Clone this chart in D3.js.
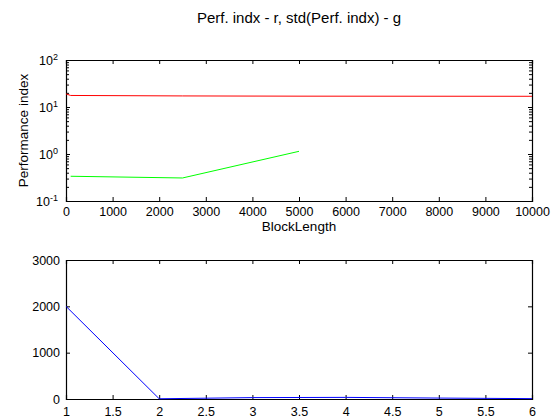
<!DOCTYPE html>
<html>
<head>
<meta charset="utf-8">
<script src="https://cdn.jsdelivr.net/npm/d3@7"></script>
<style>
  body { margin: 0; background: #fff; }
  svg { font-family: "Liberation Sans", Arial, sans-serif; }
  .domain { stroke: #000; }
  .tick line { stroke: #000; }
  .tick text { fill: #000; font-size: 12.5px; }
</style>
</head>
<body>
<div id="chart"></div>
<script>
// top panel: performance index vs block length
const blockLen = [0, 100, 2500, 5000, 10000];
const perfIdx = [19, 17.6, 17.2, 17.0, 16.9];
const stdLen = [100, 2500, 5000];
const stdPerf = [0.336, 0.309, 1.14];

// bottom panel
const xBottom = [1, 2, 3, 4, 5, 6];
const yBottom = [2000, 5, 30, 35, 20, 8];

const xTicksTop = d3.range(0, 10001, 1000);
const yTicksTop = [0.1, 1, 10, 100];
const xTicksBottom = d3.range(1, 6.01, 0.5);
const yTicksBottom = [0, 1000, 2000, 3000];

const W = 558, H = 418;
const left = 66, right = 532;

const svg = d3.select("#chart").append("svg")
  .attr("width", W).attr("height", H);

svg.append("text")
  .attr("x", (left + right) / 2).attr("y", 23)
  .attr("text-anchor", "middle")
  .style("font-size", "15px")
  .text("Perf. indx - r, std(Perf. indx) - g");

// ---- top axes
let top1 = 60, bot1 = 201;
let x1 = d3.scaleLinear().domain([0, 10000]).range([left, right]);
let y1 = d3.scaleLog().domain([0.1, 100]).range([bot1, top1]);

function sup(sel) {
  sel.selectAll(".tick text").each(function (d) {
    const t = d3.select(this);
    t.text("");
    t.append("tspan").text("10");
    t.append("tspan").attr("dy", "-0.45em").style("font-size", "9px")
      .text(Math.round(Math.log10(d)));
  });
}

let minor = y1.ticks().filter(d => !yTicksTop.some(v => Math.abs(v - d) < 1e-9));

svg.append("g").attr("transform", "translate(0," + bot1 + ")")
  .call(d3.axisBottom(x1).tickValues(xTicksTop).tickSize(-4).tickPadding(6).tickFormat(d3.format("d")));
svg.append("g").attr("transform", "translate(0," + top1 + ")")
  .call(d3.axisTop(x1).tickValues(xTicksTop).tickSize(-4).tickFormat(""));
svg.append("g").attr("transform", "translate(" + left + ",0)")
  .call(d3.axisLeft(y1).tickValues(yTicksTop).tickSize(-4).tickPadding(8))
  .call(sup);
svg.append("g").attr("transform", "translate(" + right + ",0)")
  .call(d3.axisRight(y1).tickValues(yTicksTop).tickSize(-4).tickFormat(""));
svg.append("g").attr("transform", "translate(" + left + ",0)")
  .call(d3.axisLeft(y1).tickValues(minor).tickSize(-3).tickFormat(""))
  .select(".domain").remove();
svg.append("g").attr("transform", "translate(" + right + ",0)")
  .call(d3.axisRight(y1).tickValues(minor).tickSize(-3).tickFormat(""))
  .select(".domain").remove();

svg.selectAll(".domain").attr("stroke-width", 1.2);

svg.append("text")
  .attr("x", (left + right) / 2).attr("y", 231)
  .attr("text-anchor", "middle").style("font-size", "13.5px")
  .text("BlockLength");
svg.append("text")
  .attr("transform", "translate(28," + (top1 + bot1) / 2 + ") rotate(-90)")
  .attr("text-anchor", "middle").style("font-size", "13.5px")
  .text("Performance index");

let line1 = d3.line().x(d => x1(d[0])).y(d => y1(d[1]));
svg.append("path")
  .datum(blockLen.map((v, i) => [v, perfIdx[i]]))
  .attr("fill", "none").attr("stroke", "#ff0000").attr("stroke-width", 1)
  .attr("d", line1);
svg.append("path")
  .datum(stdLen.map((v, i) => [v, stdPerf[i]]))
  .attr("fill", "none").attr("stroke", "#00ff00").attr("stroke-width", 1)
  .attr("d", line1);

// ---- bottom axes
let top2 = 260, bot2 = 399;
let x2 = d3.scaleLinear().domain([1, 6]).range([left, right]);
let y2 = d3.scaleLinear().domain([0, 3000]).range([bot2, top2]);

svg.append("g").attr("transform", "translate(0," + bot2 + ")")
  .call(d3.axisBottom(x2).tickValues(xTicksBottom).tickSize(-4).tickPadding(8).tickFormat(d3.format("~g")));
svg.append("g").attr("transform", "translate(0," + top2 + ")")
  .call(d3.axisTop(x2).tickValues(xTicksBottom).tickSize(-4).tickFormat(""));
svg.append("g").attr("transform", "translate(" + left + ",0)")
  .call(d3.axisLeft(y2).tickValues(yTicksBottom).tickSize(-4).tickPadding(6).tickFormat(d3.format("d")));
svg.append("g").attr("transform", "translate(" + right + ",0)")
  .call(d3.axisRight(y2).tickValues(yTicksBottom).tickSize(-4).tickFormat(""));

svg.selectAll(".domain").attr("stroke-width", 1.2);

let line2 = d3.line().x(d => x2(d[0])).y(d => y2(d[1]));
svg.append("path")
  .datum(xBottom.map((v, i) => [v, yBottom[i]]))
  .attr("fill", "none").attr("stroke", "#0000ff").attr("stroke-width", 1)
  .attr("d", line2);
</script>
</body>
</html>
